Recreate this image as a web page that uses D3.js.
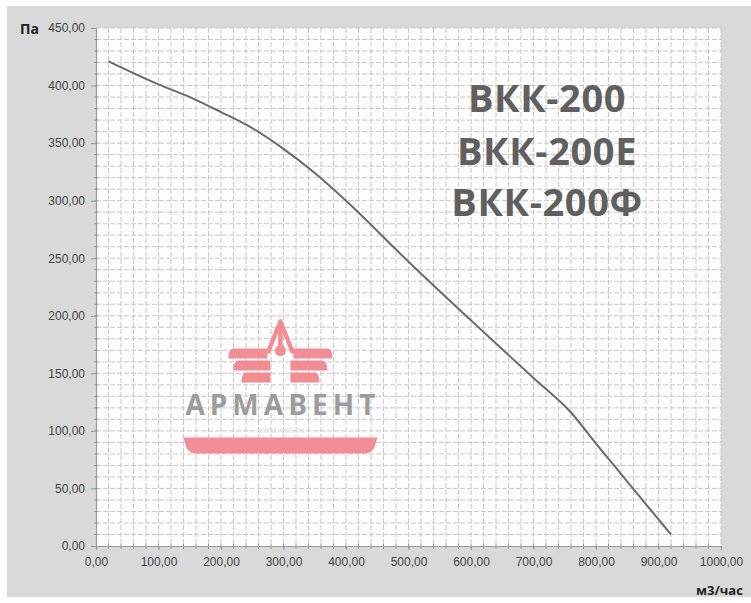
<!DOCTYPE html>
<html>
<head>
<meta charset="utf-8">
<script src="https://cdn.jsdelivr.net/npm/d3@7"></script>
<style>
  body { margin: 0; background: #fff; }
  svg { display: block; font-family: "Open Sans", "Noto Sans", sans-serif; }
  .tick text { fill: #444; font-size: 12px; }
</style>
</head>
<body>
<svg id="chart"></svg>
<script>
// air flow, m3/h and pressure, Pa
var flow = [20, 100, 150, 200, 250, 300, 350, 400, 500, 600, 700, 760, 800, 850, 920];
var pressure = [421, 401, 390, 377, 363, 345, 324, 300, 247, 196, 146, 116, 89, 56, 10];

var xTicks = [0, 100, 200, 300, 400, 500, 600, 700, 800, 900, 1000];
var yTicks = [0, 50, 100, 150, 200, 250, 300, 350, 400, 450];
var models = ["ВКК-200", "ВКК-200Е", "ВКК-200Ф"];

var screen = { width: 751, height: 603 };
var margins = { top: 28, left: 96, right: 30, bottom: 57 };
var graph = {
  width: screen.width - margins.left - margins.right,
  height: screen.height - margins.top - margins.bottom
};

var ru = d3.formatLocale({ decimal: ",", thousands: "", grouping: [3], currency: ["", ""] });
var fmt = ru.format(".2f");

var svg = d3.select("#chart").attr("width", screen.width).attr("height", screen.height);

// grey card behind the chart
svg.append("rect")
  .attr("x", 7).attr("y", 6)
  .attr("width", screen.width - 7).attr("height", 591)
  .attr("fill", "#d9d9d9");

var xScale = d3.scaleLinear().domain([0, 1000]).range([0, graph.width]);
var yScale = d3.scaleLinear().domain([0, 450]).range([graph.height, 0]);

var g = svg.append("g")
  .attr("transform", "translate(" + margins.left + "," + margins.top + ")");

g.append("rect")
  .attr("width", graph.width).attr("height", graph.height)
  .attr("fill", "#fdfdfd");

// dashed grid, every 20 m3/h and every 10 Pa
var grid = g.append("g").attr("stroke", "#c8c8c8").attr("stroke-dasharray", "5,2");
grid.selectAll(".vx")
  .data(d3.range(20, 1001, 20))
  .enter().append("line")
  .attr("x1", function (d) { return xScale(d); })
  .attr("x2", function (d) { return xScale(d); })
  .attr("y1", 0).attr("y2", graph.height);
grid.selectAll(".hy")
  .data(d3.range(10, 451, 10))
  .enter().append("line")
  .attr("y1", function (d) { return yScale(d); })
  .attr("y2", function (d) { return yScale(d); })
  .attr("x1", 0).attr("x2", graph.width);

// watermark logo
var logo = g.append("g").attr("transform", "translate(" + xScale(295) + "," + yScale(195) + ")");
var pink = "#f28c95";
logo.append("path")
  .attr("d", "M0,0 L-12,30 M0,0 L12,30 M0,4 L0,25")
  .attr("stroke", pink).attr("stroke-width", 4.5).attr("fill", "none")
  .attr("stroke-linecap", "round");
logo.append("circle").attr("cx", 0).attr("cy", 29).attr("r", 5.5).attr("fill", pink);
var wings = [
  { y: 27, x0: 13, x1: 52, h: 10 },
  { y: 39, x0: 10, x1: 47, h: 10 },
  { y: 51, x0: 10, x1: 39, h: 10 }
];
[-1, 1].forEach(function (s) {
  logo.selectAll(null).data(wings).enter().append("path")
    .attr("fill", pink)
    .attr("d", function (w) {
      return "M" + s * w.x0 + "," + w.y + " L" + s * (w.x1 - 5) + "," + w.y +
        " Q" + s * w.x1 + "," + w.y + " " + s * w.x1 + "," + (w.y + w.h) +
        " L" + s * w.x0 + "," + (w.y + w.h) + "Z";
    });
});
logo.append("text")
  .attr("x", -95).attr("y", 93)
  .attr("font-size", 28).attr("font-weight", 700)
  .attr("textLength", 190).attr("lengthAdjust", "spacing")
  .attr("fill", "#9c9c9c")
  .text("АРМАВЕНТ");
logo.append("text")
  .attr("x", 0).attr("y", 111)
  .attr("text-anchor", "middle")
  .attr("font-size", 10).attr("font-family", "Liberation Serif, serif")
  .attr("fill", "#e2e2e2")
  .text("armavent.ru");
logo.append("path")
  .attr("fill", pink)
  .attr("d", "M-97,116 L97,116 L94,126 Q91,132 84,132 L-84,132 Q-91,132 -94,126 Z");

// model names
g.append("g").selectAll("text")
  .data(models)
  .enter().append("text")
  .attr("x", 451)
  .attr("y", function (d, i) { return [84, 137, 188][i]; })
  .attr("text-anchor", "middle")
  .attr("font-size", 38).attr("font-weight", 700)
  .attr("letter-spacing", 0.6)
  .attr("fill", "#606060")
  .text(function (d) { return d; });

// axes
var xAxis = d3.axisBottom(xScale).tickValues(xTicks).tickFormat(fmt).tickSize(4).tickPadding(7);
var yAxis = d3.axisLeft(yScale).tickValues(yTicks).tickFormat(fmt).tickSize(5).tickPadding(6);

var xg = g.append("g").attr("transform", "translate(0," + graph.height + ")").call(xAxis);
var yg = g.append("g").call(yAxis);
[xg, yg].forEach(function (a) {
  a.select(".domain").attr("stroke", "#9a9a9a").attr("stroke-width", 1.2);
  a.selectAll(".tick line").attr("stroke", "#9a9a9a");
});

// small minor ticks
g.append("g").attr("stroke", "#9a9a9a").selectAll("line")
  .data(d3.range(20, 1000, 20))
  .enter().append("line")
  .attr("x1", function (d) { return xScale(d); })
  .attr("x2", function (d) { return xScale(d); })
  .attr("y1", graph.height - 2).attr("y2", graph.height + 3);
g.append("g").attr("stroke", "#9a9a9a").selectAll("line")
  .data(d3.range(10, 450, 10))
  .enter().append("line")
  .attr("y1", function (d) { return yScale(d); })
  .attr("y2", function (d) { return yScale(d); })
  .attr("x1", -2).attr("x2", 2);

// curve
var line = d3.line()
  .x(function (d, i) { return xScale(flow[i]); })
  .y(function (d) { return yScale(d); })
  .curve(d3.curveMonotoneX);
g.append("path")
  .datum(pressure)
  .attr("d", line)
  .attr("fill", "none")
  .attr("stroke", "#6b6b6b")
  .attr("stroke-width", 2);

// unit labels
svg.append("text").attr("x", 20).attr("y", 34)
  .attr("font-size", 14).attr("font-weight", 700).attr("fill", "#222")
  .text("Па");
svg.append("text").attr("x", 696).attr("y", 595)
  .attr("font-size", 13).attr("font-weight", 700).attr("fill", "#222")
  .text("м3/час");
</script>
</body>
</html>
